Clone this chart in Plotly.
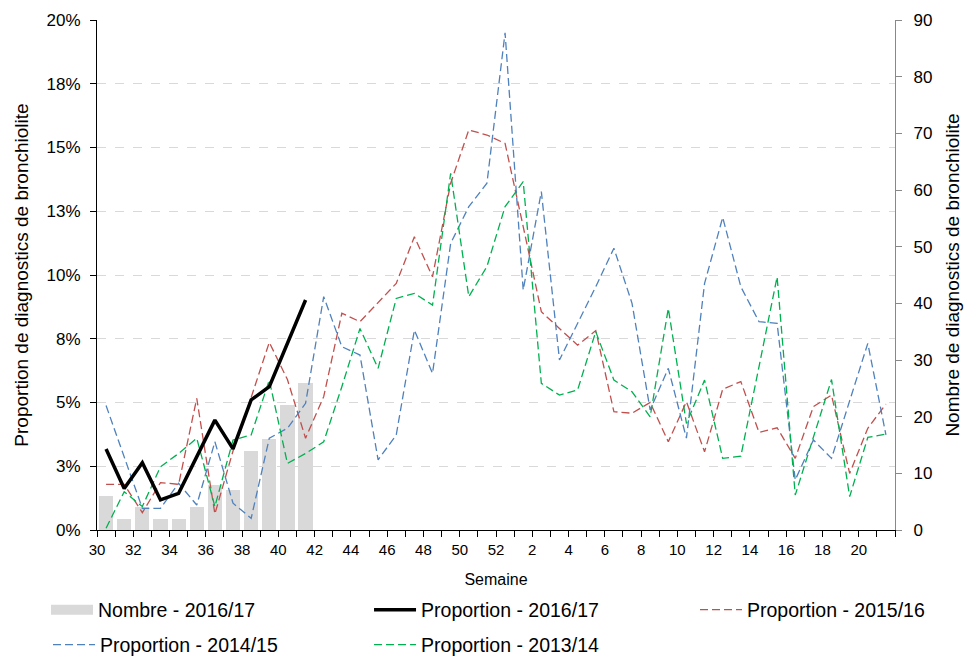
import plotly.graph_objects as go

# ---- data ----
weeks = list(range(30, 53)) + list(range(1, 22))

count_2016 = [6, 2, 4, 2, 2, 4, 8, 7, 14, 16, 22, 26]

prop_2016 = [3.18, 1.63, 2.64, 1.18, 1.44, 2.86, 4.31, 3.18, 5.10, 5.62, 7.30, 9.02]

prop_2015 = [1.79, 1.79, 0.68, 1.86, 1.79, 5.16, 0.63, 3.10, 5.20, 7.36, 5.90, 3.60,
             5.23, 8.50, 8.17, 8.90, 9.67, 11.50, 9.93, 13.60, 15.69, 15.49, 15.16, 11.90,
             8.56, 7.90, 7.25, 7.82, 4.64, 4.58, 5.00, 3.46, 5.03, 3.07, 5.52, 5.82,
             3.83, 4.01, 2.81, 4.84, 5.29, 2.22, 3.99, 4.94]

prop_2014 = [4.88, 2.90, 0.85, 0.85, 1.83, 0.98, 3.46, 1.05, 0.46, 3.60, 3.99, 4.97,
             9.15, 7.19, 6.86, 2.75, 3.73, 7.84, 6.14, 11.24, 12.68, 13.60, 19.50, 9.41,
             13.27, 6.67, 8.10, 9.54, 11.05, 8.89, 4.71, 6.34, 3.60, 9.67, 12.26, 9.54,
             8.17, 8.10, 1.96, 3.53, 2.81, 5.10, 7.32, 3.73]

prop_2013 = [0.07, 1.50, 0.92, 2.48, 3.00, 3.60, 0.92, 3.53, 3.73, 5.88, 2.61, 3.00,
             3.46, 5.62, 7.90, 6.34, 9.08, 9.28, 8.82, 13.99, 9.15, 10.33, 12.68, 13.66,
             5.75, 5.29, 5.49, 7.78, 5.88, 5.42, 4.44, 8.69, 4.18, 5.88, 2.81, 2.90,
             6.40, 9.93, 1.37, 3.66, 5.90, 1.31, 3.63, 3.76]

pct_tickvals = [0, 2.5, 5, 7.5, 10, 12.5, 15, 17.5, 20]
pct_ticktext = ["0%", "3%", "5%", "8%", "10%", "13%", "15%", "18%", "20%"]
count_tickvals = list(range(0, 91, 10))

# ---- figure ----
pos = list(range(len(weeks)))
FONT = "Liberation Sans, Arial, sans-serif"
DASH = "8px,4px"

fig = go.Figure()

# bars (count, right axis)
fig.add_trace(go.Bar(
    x=pos[:len(count_2016)], y=count_2016, name="Nombre - 2016/17",
    marker=dict(color="#d9d9d9", line=dict(width=0)), width=0.78, yaxis="y",
    legendgroup="nombre", showlegend=False))
# legend entry for the bars (wide grey swatch)
fig.add_trace(go.Scatter(
    x=[None], y=[None], name="Nombre - 2016/17", mode="lines",
    line=dict(color="#d9d9d9", width=16), yaxis="y",
    legendgroup="nombre", legend="legend"))

fig.add_trace(go.Scatter(
    x=pos, y=prop_2015, name="Proportion - 2015/16", mode="lines",
    line=dict(color="#C0504D", width=1.3, dash=DASH), yaxis="y2", legend="legend3"))

fig.add_trace(go.Scatter(
    x=pos, y=prop_2014, name="Proportion - 2014/15", mode="lines",
    line=dict(color="#4F81BD", width=1.3, dash=DASH), yaxis="y2", legend="legend4"))

fig.add_trace(go.Scatter(
    x=pos, y=prop_2013, name="Proportion - 2013/14", mode="lines",
    line=dict(color="#00B050", width=1.3, dash=DASH), yaxis="y2", legend="legend5"))

fig.add_trace(go.Scatter(
    x=pos[:len(prop_2016)], y=prop_2016, name="Proportion - 2016/17", mode="lines",
    line=dict(color="#000000", width=3.5), yaxis="y2", legend="legend2"))

tickpos = [p - 0.5 for p in pos] + [len(weeks) - 0.5]
ticklab = [str(w) if i % 2 == 0 else "" for i, w in enumerate(weeks)] + [""]

def leg(x, y):
    return dict(orientation="v", x=x, xanchor="left", y=y, yanchor="middle",
                font=dict(size=19.5), itemwidth=42, bgcolor="rgba(0,0,0,0)",
                borderwidth=0)

fig.update_layout(
    width=976, height=657,
    margin=dict(l=97, r=81, t=20, b=127, autoexpand=False),
    paper_bgcolor="white", plot_bgcolor="white",
    font=dict(family=FONT, size=16, color="#000000"),
    bargap=0,
    showlegend=True,
    xaxis=dict(
        range=[-0.5, len(weeks) - 0.5], automargin=False,
        tickmode="array", tickvals=tickpos, ticktext=ticklab,
        ticks="outside", ticklen=6, tickcolor="#000", tickwidth=1,
        showline=True, linecolor="#000", linewidth=1.2,
        showgrid=False, zeroline=False,
        tickfont=dict(size=15),
        title=dict(text="Semaine", font=dict(size=16), standoff=16),
    ),
    yaxis=dict(
        side="right", range=[0, 90], automargin=False,
        tickmode="array", tickvals=count_tickvals,
        ticks="outside", ticklen=6, tickcolor="#888", showline=True,
        linecolor="#888", linewidth=1.2, showgrid=False, zeroline=False,
        tickfont=dict(size=17), ticklabelstandoff=8,
        title=dict(text="Nombre de diagnostics de bronchiolite", font=dict(size=19), standoff=14),
    ),
    yaxis2=dict(
        side="left", overlaying="y", range=[0, 20], automargin=False,
        tickmode="array", tickvals=pct_tickvals, ticktext=pct_ticktext,
        ticks="outside", ticklen=6, tickcolor="#000", showline=True,
        linecolor="#000", linewidth=1.2,
        showgrid=True, gridcolor="#d9d9d9", gridwidth=1, griddash="dash",
        zeroline=False,
        tickfont=dict(size=17), ticklabelstandoff=6,
        title=dict(text="Proportion de diagnostics de bronchiolite", font=dict(size=19), standoff=12),
    ),
    legend=leg(-0.0639, -0.1569),
    legend2=leg(0.3409, -0.1569),
    legend3=leg(0.7494, -0.1569),
    legend4=leg(-0.0614, -0.2255),
    legend5=leg(0.3409, -0.2255),
)

# remove the page's default 8px body margin so the figure fills the window
fig.write_html(
    "out.html",
    config={"displayModeBar": False},
    post_script="document.body.style.margin='0px';document.body.style.overflow='hidden';",
)
